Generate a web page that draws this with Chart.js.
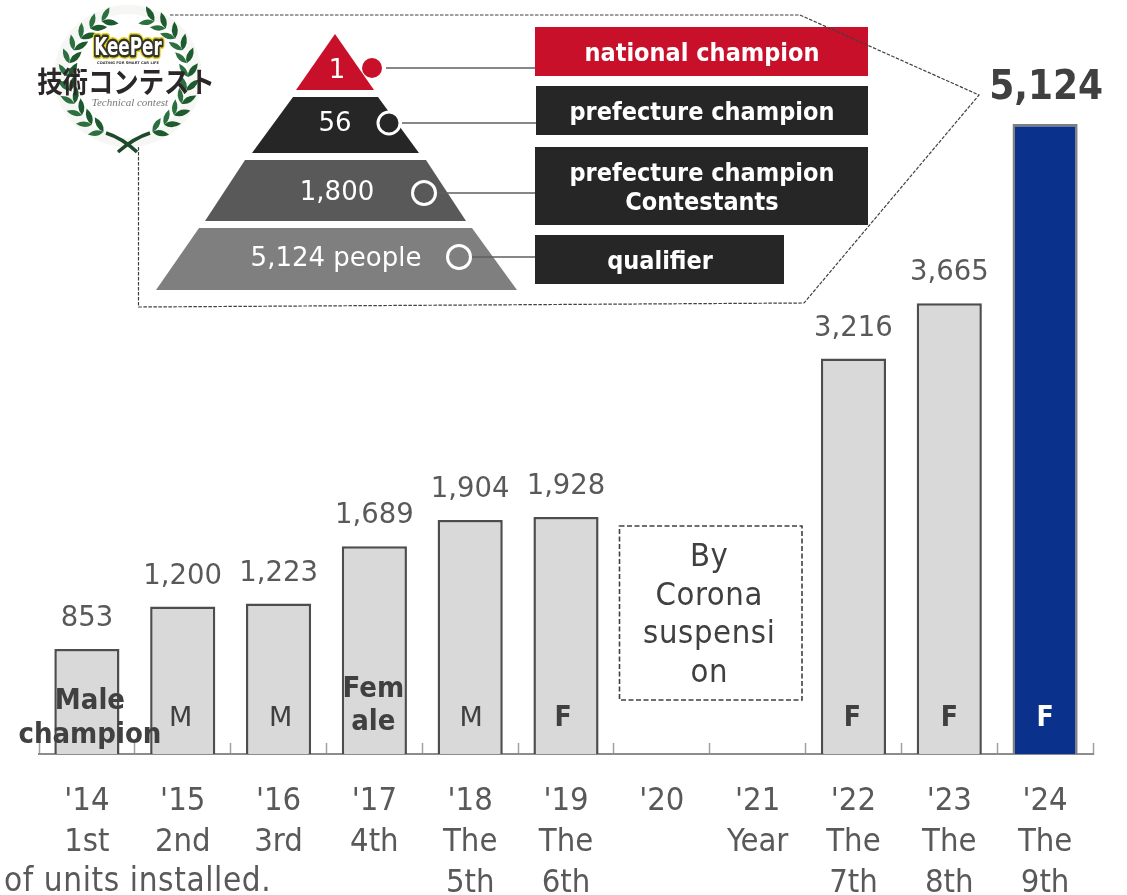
<!DOCTYPE html>
<html>
<head>
<meta charset="utf-8">
<style>
  html, body { margin: 0; padding: 0; background: #fff; overflow: hidden; }
  #wrap { position: relative; width: 1127px; height: 895px; }
</style>
<script src="https://cdn.jsdelivr.net/npm/chart.js@4/dist/chart.umd.min.js"></script>
</head>
<body>
<div id="wrap"><canvas id="c" width="1127" height="895"></canvas></div>
<script>
// Contest entrants per year
const years = ["'14", "'15", "'16", "'17", "'18", "'19", "'20", "'21", "'22", "'23", "'24"];
const rounds = [["1st"], ["2nd"], ["3rd"], ["4th"], ["The", "5th"], ["The", "6th"], [""], ["Year"], ["The", "7th"], ["The", "8th"], ["The", "9th"]];
const entrants = [853, 1200, 1223, 1689, 1904, 1928, null, null, 3216, 3665, 5124];
const winners = [["Male", "champion"], ["M"], ["M"], ["Fem", "ale"], ["M"], ["F"], [], [], ["F"], ["F"], ["F"]];
const winnerBold = [true, false, false, true, false, true, false, false, true, true, true];

// Contest tiers, top of the pyramid first
const tierCounts = ["1", "56", "1,800", "5,124 people"];
const tierNames = [["national champion"], ["prefecture champion"], ["prefecture champion", "Contestants"], ["qualifier"]];

const suspensionNote = ["By", "Corona", "suspensi", "on"];
const footNote = "of units installed.";

const FONT = '"DejaVu Sans", sans-serif';
const NARROW = '"DejaVu Sans Condensed", "Noto Sans", sans-serif';
const INK = "#404040";
const LABEL_GREY = "#595959";

function setFont(ctx, size, bold, family) {
  ctx.font = (bold ? "bold " : "") + size + "px " + (family || FONT);
}

function poly(ctx, pts) {
  ctx.beginPath();
  pts.forEach((p, i) => i ? ctx.lineTo(p[0], p[1]) : ctx.moveTo(p[0], p[1]));
  ctx.closePath();
}

// One laurel leaf: a pointed almond from (x,y) along the given angle
function leaf(ctx, x, y, ang, len, wid, color) {
  ctx.save();
  ctx.translate(x, y);
  ctx.rotate(ang);
  ctx.beginPath();
  ctx.moveTo(0, 0);
  ctx.quadraticCurveTo(len * 0.45, -wid, len, 0);
  ctx.quadraticCurveTo(len * 0.45, wid, 0, 0);
  ctx.fillStyle = color;
  ctx.fill();
  ctx.restore();
}

function drawLogo(ctx) {
  const cx = 128, cy = 76;
  ctx.save();
  ctx.fillStyle = "#f6f7f5";
  ctx.beginPath(); ctx.ellipse(cx, cy, 74, 71, 0, 0, Math.PI * 2); ctx.fill();
  ctx.fillStyle = "#ffffff";
  ctx.beginPath(); ctx.ellipse(cx, cy, 60, 62, 0, 0, Math.PI * 2); ctx.fill();

  // Each branch walks from the bottom of the wreath up its own side;
  // the angle is measured clockwise from the top
  const branchSide = side => {
    for (let deg = 156; deg >= 26; deg -= 13) {
      const a = deg * Math.PI / 180;
      const bx = cx + side * 60 * Math.sin(a);
      const by = cy - 61 * Math.cos(a);
      const tangent = Math.atan2(-61 * Math.sin(a), -side * 60 * Math.cos(a));
      leaf(ctx, bx, by, tangent + 0.6, 17, 6, "#1d5a2d");
      leaf(ctx, bx, by, tangent - 0.6, 16, 5.5, "#2c7040");
    }
  };
  branchSide(1);
  branchSide(-1);

  // Crossed stems at the foot of the wreath
  ctx.strokeStyle = "#1d4a28";
  ctx.lineWidth = 3.5;
  ctx.beginPath();
  ctx.moveTo(106, 133); ctx.quadraticCurveTo(122, 138, 137, 152);
  ctx.moveTo(150, 133); ctx.quadraticCurveTo(134, 138, 118, 152);
  ctx.stroke();

  // Wordmark
  ctx.textAlign = "center";
  ctx.textBaseline = "middle";
  ctx.lineJoin = "round";
  ctx.save();
  ctx.translate(128, 49);
  ctx.scale(0.7, 1);
  ctx.font = 'bold 24px "DejaVu Sans", sans-serif';
  ctx.strokeStyle = "#e7d21c"; ctx.lineWidth = 8; ctx.strokeText("KeePer", 0, 0);
  ctx.strokeStyle = "#33352a"; ctx.lineWidth = 5; ctx.strokeText("KeePer", 0, 0);
  ctx.fillStyle = "#fff"; ctx.fillText("KeePer", 0, 0);
  ctx.restore();
  ctx.font = "bold 3.6px " + FONT;
  ctx.fillStyle = "#333";
  ctx.fillText("COATING FOR SMART CAR LIFE", 128, 63);
  ctx.save();
  ctx.translate(126, 82);
  ctx.scale(0.875, 1);
  ctx.font = 'bold 29px "Noto Sans CJK JP", sans-serif';
  ctx.fillStyle = "#2b2727";
  ctx.fillText("技術コンテスト", 0, 0);
  ctx.restore();
  ctx.font = 'italic 11px "Liberation Serif", serif';
  ctx.fillStyle = "#777";
  ctx.fillText("Technical contest", 130, 103);
  ctx.restore();
}

function drawPyramid(ctx) {
  const tiers = [
    { pts: [[335, 34], [374, 90], [296, 90]], fill: "#c8102a" },
    { pts: [[293, 97], [378, 97], [419, 153], [252, 153]], fill: "#262626" },
    { pts: [[245, 160], [426, 160], [466, 221], [205, 221]], fill: "#595959" },
    { pts: [[199, 228], [472, 228], [517, 290], [156, 290]], fill: "#7f7f7f" }
  ];
  tiers.forEach(t => { poly(ctx, t.pts); ctx.fillStyle = t.fill; ctx.fill(); });

  // Count inside each tier
  const countPos = [[337, 71], [335, 124], [337, 193], [336, 259]];
  ctx.textAlign = "center";
  ctx.textBaseline = "middle";
  ctx.fillStyle = "#fff";
  setFont(ctx, 26, false);
  tierCounts.forEach((s, i) => ctx.fillText(s, countPos[i][0], countPos[i][1]));

  // Name boxes
  const boxes = [
    { x: 535, y: 27, w: 333, h: 49, fill: "#c8102a", lines: [54] },
    { x: 536, y: 86, w: 332, h: 49, fill: "#262626", lines: [113] },
    { x: 535, y: 147, w: 333, h: 78, fill: "#262626", lines: [174, 203] },
    { x: 535, y: 235, w: 249, h: 49, fill: "#262626", lines: [262] }
  ];
  boxes.forEach((b, i) => {
    ctx.fillStyle = b.fill;
    ctx.fillRect(b.x, b.y, b.w, b.h);
    ctx.fillStyle = "#fff";
    setFont(ctx, 25, true, NARROW);
    const midX = i === 3 ? 660 : 702;
    tierNames[i].forEach((s, k) => ctx.fillText(s, midX, b.lines[k]));
  });

  // Leader lines and their markers
  const leaders = [
    { cx: 372, cy: 68, r: 10, from: 386, to: 535, fill: "#c8102a", ring: null },
    { cx: 389, cy: 123, r: 11, from: 402, to: 536, fill: "#262626", ring: "#fff" },
    { cx: 424, cy: 193, r: 11.5, from: 437, to: 535, fill: "#595959", ring: "#fff" },
    { cx: 459, cy: 257, r: 11.5, from: 472, to: 535, fill: "#7f7f7f", ring: "#fff" }
  ];
  leaders.forEach(l => {
    ctx.strokeStyle = "#5f5f5f";
    ctx.lineWidth = 1.5;
    ctx.beginPath(); ctx.moveTo(l.from, l.cy); ctx.lineTo(l.to, l.cy); ctx.stroke();
    ctx.beginPath(); ctx.arc(l.cx, l.cy, l.r, 0, Math.PI * 2);
    ctx.fillStyle = l.fill; ctx.fill();
    if (l.ring) { ctx.strokeStyle = l.ring; ctx.lineWidth = 3; ctx.stroke(); }
  });

  // Dashed callout leading from the inset to the 2024 bar
  ctx.strokeStyle = "#404040";
  ctx.lineWidth = 1.2;
  ctx.setLineDash([3.5, 1.5]);
  ctx.beginPath();
  ctx.moveTo(170, 15); ctx.lineTo(800, 15); ctx.lineTo(979, 95);
  ctx.lineTo(804, 303); ctx.lineTo(138.5, 307); ctx.lineTo(138.5, 147);
  ctx.stroke();
  ctx.setLineDash([]);
}

// Everything that sits beside the axes: value labels, inset, notes
const annotations = {
  id: "annotations",
  afterDatasetsDraw(chart) {
    const ctx = chart.ctx;
    const meta = chart.getDatasetMeta(0);
    // Small horizontal corrections for the letters printed inside bars
    const nudge = [3, -2, 2, -1, 1, -3, 0, 0, -1, 0, 0];
    ctx.save();
    ctx.textAlign = "center";
    ctx.textBaseline = "middle";

    meta.data.forEach((bar, i) => {
      const v = entrants[i];
      if (v === null) return;
      const last = i === entrants.length - 1;
      ctx.fillStyle = last ? INK : LABEL_GREY;
      if (last) setFont(ctx, 40, true, NARROW); else setFont(ctx, 27.5, false);
      const y = last ? bar.y - 35 : bar.y - 30;
      ctx.fillText(v.toLocaleString("en-US"), bar.x + (last ? 1 : 0), y);

      // Champion's gender printed near the foot of the bar
      const lines = winners[i];
      const base = chart.scales.y.getPixelForValue(0);
      ctx.fillStyle = last ? "#fff" : INK;
      if (lines.length === 2) {
        setFont(ctx, 29, true, NARROW);
        const top = i === 0 ? base - 53 : base - 65;
        const gap = i === 0 ? 34 : 33;
        lines.forEach((s, k) => ctx.fillText(s, bar.x + nudge[i], top + k * gap));
      } else {
        if (winnerBold[i]) setFont(ctx, 28, true, NARROW); else setFont(ctx, 27, false);
        ctx.fillText(lines[0], bar.x + nudge[i], base - 35);
      }
    });

    // Years without a contest
    const a = chart.scales.x.getPixelForValue(6);
    const b = chart.scales.x.getPixelForValue(7);
    const mid = (a + b) / 2 - 0.5;
    ctx.strokeStyle = "#404040";
    ctx.lineWidth = 1.6;
    ctx.setLineDash([5, 2.5]);
    ctx.strokeRect(619.5, 526, 182.5, 174);
    ctx.setLineDash([]);
    ctx.fillStyle = INK;
    setFont(ctx, 32.5, false, NARROW);
    ctx.letterSpacing = "0.6px";
    suspensionNote.forEach((s, k) => ctx.fillText(s, mid, 558 + k * 38.4));

    // Footnote under the first tick labels
    ctx.fillStyle = LABEL_GREY;
    ctx.textAlign = "left";
    setFont(ctx, 33, false, NARROW);
    ctx.letterSpacing = "0.6px";
    ctx.fillText(footNote, 4, 882);
    ctx.letterSpacing = "0px";

    drawPyramid(ctx);
    drawLogo(ctx);
    ctx.restore();
  }
};

const barFill = entrants.map((v, i) => i === entrants.length - 1 ? "#0a318c" : "#d9d9d9");
const barEdge = entrants.map((v, i) => i === entrants.length - 1 ? "#7f7f7f" : "#4d4d4d");

Chart.defaults.animation = false;

new Chart(document.getElementById("c"), {
  type: "bar",
  data: {
    labels: years.map((y, i) => [y].concat(rounds[i])),
    datasets: [{
      data: entrants,
      backgroundColor: barFill,
      borderColor: barEdge,
      borderWidth: 2.5,
      barPercentage: 0.68,
      categoryPercentage: 1
    }]
  },
  options: {
    responsive: false,
    animation: false,
    layout: { padding: { left: 39, right: 34, top: 0, bottom: 0 } },
    plugins: { legend: { display: false }, tooltip: { enabled: false }, title: { display: false } },
    scales: {
      x: {
        offset: true,
        afterFit: s => { s.height = 141; },
        border: { display: true, color: "#8c8c8c", width: 2 },
        grid: {
          offset: true,
          drawOnChartArea: false,
          drawTicks: true,
          tickLength: -11,
          tickColor: "#a0a0a0",
          tickWidth: 1.5
        },
        ticks: {
          color: LABEL_GREY,
          font: { family: NARROW, size: 32.5, lineHeight: 1.262 },
          padding: 38,
          maxRotation: 0,
          autoSkip: false
        }
      },
      y: {
        display: false,
        min: 0,
        max: 6132
      }
    }
  },
  plugins: [annotations]
});
</script>
</body>
</html>
